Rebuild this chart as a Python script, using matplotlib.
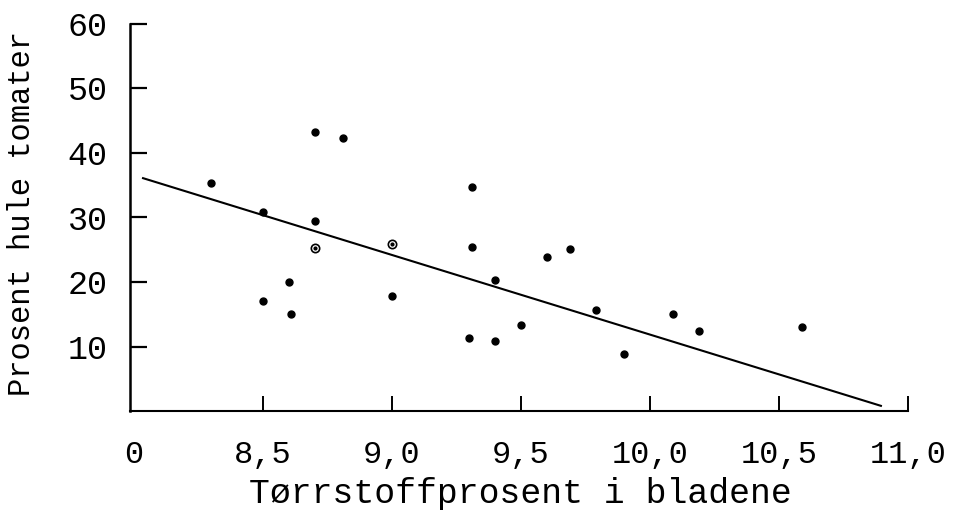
import matplotlib.pyplot as plt

# dry matter % in leaves vs % hollow tomatoes
dry_matter = [8.30, 8.50, 8.70, 8.81, 8.70, 8.60, 8.50, 8.61, 9.00,
              9.31, 9.31, 9.60, 9.69, 9.40, 9.79, 10.09, 9.50, 9.30,
              9.40, 9.90, 10.19, 10.59]
hollow_pct = [35.3, 30.8, 43.2, 42.4, 29.4, 20.0, 17.0, 15.0, 17.8,
              34.8, 25.4, 23.8, 25.1, 20.3, 15.6, 15.0, 13.3, 11.3,
              10.8, 8.8, 12.4, 13.0]

# the two points drawn as small open circles
open_x = [8.70, 9.00]
open_y = [25.2, 25.9]

# regression line end points
line_x = [8.035, 10.895]
line_y = [36.1, 0.8]

x_ticks = [8.0, 8.5, 9.0, 9.5, 10.0, 10.5, 11.0]
x_labels = ["0", "8,5", "9,0", "9,5", "10,0", "10,5", "11,0"]
y_ticks = [10, 20, 30, 40, 50, 60]

font = "Liberation Mono"

fig = plt.figure(figsize=(9.56, 5.11), dpi=100)
ax = fig.add_axes([130 / 956, 100 / 511, 778 / 956, 387 / 511])

ax.plot(line_x, line_y, color="black", lw=1.5)
ax.plot(dry_matter, hollow_pct, "o", color="black", ms=5)
ax.plot(open_x, open_y, "o", mfc="white", mec="black", mew=1.2, ms=6)
ax.plot(open_x, open_y, "o", color="black", ms=2)

ax.set_xlim(8 - 4 / 258, 11.0)
ax.set_ylim(0, 60)

ax.spines["top"].set_visible(False)
ax.spines["right"].set_visible(False)
ax.spines["left"].set_linewidth(1.8)
ax.spines["bottom"].set_linewidth(1.5)

ax.set_xticks(x_ticks)
ax.set_xticklabels(x_labels, fontfamily=font, fontsize=23)
ax.set_yticks(y_ticks)
ax.set_yticklabels([str(v) for v in y_ticks], fontfamily=font, fontsize=24)
ax.tick_params(axis="x", direction="in", length=11, width=1.4, pad=21)
ax.tick_params(axis="y", direction="in", length=12, width=1.6, pad=16)
ax.xaxis.get_major_ticks()[0].tick1line.set_visible(False)

fig.text(520 / 956, 1 - 503 / 511, "Tørrstoffprosent i bladene",
         fontfamily=font, fontsize=25, ha="center", va="baseline")
fig.text(22 / 956, 1 - 213 / 511, "Prosent hule tomater",
         fontfamily=font, fontsize=22, rotation=90, ha="center", va="center")

fig.savefig("out.png", dpi=100)
